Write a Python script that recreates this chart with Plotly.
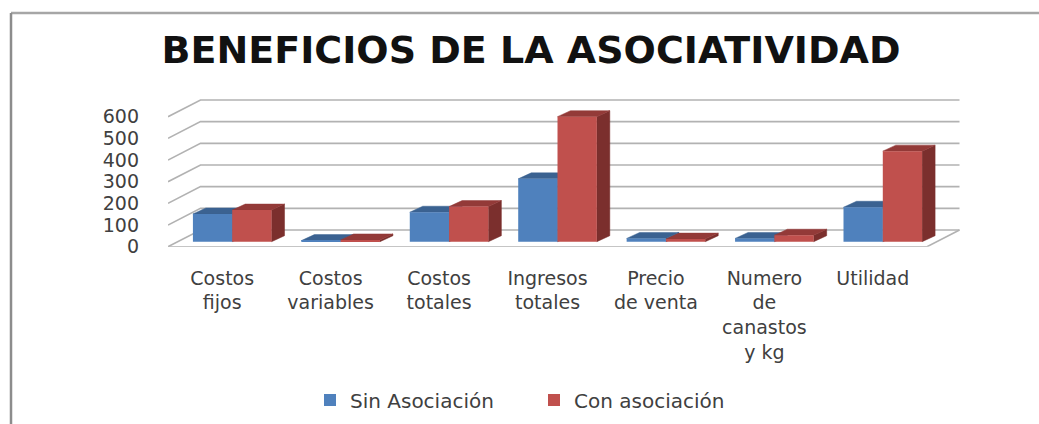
import plotly.graph_objects as go

# values
categorias = ["Costos<br>fijos", "Costos<br>variables", "Costos<br>totales", "Ingresos<br>totales",
              "Precio<br>de venta", "Numero<br>de<br>canastos<br>y kg", "Utilidad"]
sin_asociacion = [128, 5, 136, 290, 15, 15, 159]
con_asociacion = [146, 8, 162, 577, 12, 30, 418]
ticks_y = [0, 100, 200, 300, 400, 500, 600]
titulo = "BENEFICIOS DE LA ASOCIATIVIDAD"

W, H = 1039, 424
FUENTE = "DejaVu Sans"
GRIS = "#b2b2b2"

# falso 3D: pixeles por unidad del plano frontal
PX_CAT = 108.43
PX_VAL = 130 / 600
X0_PX, Y0_PX = 168, 246.7
XMIN, XFRENTE, XMAX = -0.5, 6.5, 6.9
YMAX = 700

PARED_DX, PARED_DY = 32.5 / PX_CAT, 16.7 / PX_VAL   # profundidad del piso
LIFT_DX, LIFT_DY = 10 / PX_CAT, 5 / PX_VAL          # barras respecto al frente
BAR_DX, BAR_DY = 13 / PX_CAT, 6 / PX_VAL            # profundidad de cada barra
ANCHO = 39.3 / PX_CAT


def cara(xs, ys, color):
    return go.Scatter(x=xs, y=ys, mode="lines", fill="toself", fillcolor=color,
                      line=dict(color=color, width=0.5), showlegend=False, hoverinfo="skip")


def caras_barra(pos, valor, izq, tapa, lado):
    # tapa y lado de una barra, calculados desde su valor
    x0 = pos + LIFT_DX + izq
    x1 = x0 + ANCHO
    y0 = LIFT_DY
    y1 = y0 + valor
    return [
        cara([x1, x1 + BAR_DX, x1 + BAR_DX, x1, x1], [y0, y0 + BAR_DY, y1 + BAR_DY, y1, y0], lado),
        cara([x0, x1, x1 + BAR_DX, x0 + BAR_DX, x0], [y1, y1, y1 + BAR_DY, y1 + BAR_DY, y1], tapa),
    ]


fig = go.Figure()

# paredes: rejilla de fondo y diagonales
gx, gy = [], []
for v in ticks_y:
    gx += [XMIN, XMIN + PARED_DX, XFRENTE + PARED_DX, None]
    gy += [v, v + PARED_DY, v + PARED_DY, None]
fig.add_trace(go.Scatter(x=gx, y=gy, mode="lines", line=dict(color=GRIS, width=1.6),
                         showlegend=False, hoverinfo="skip"))

# piso
fig.add_trace(go.Scatter(x=[XMIN, XFRENTE, XFRENTE + PARED_DX], y=[0, 0, PARED_DY], mode="lines",
                         line=dict(color=GRIS, width=1.6), showlegend=False, hoverinfo="skip"))

for i, (a, b) in enumerate(zip(sin_asociacion, con_asociacion)):
    for t in caras_barra(i, a, -ANCHO, "#3b6291", "#385d8a"):
        fig.add_trace(t)
    for t in caras_barra(i, b, 0, "#933a38", "#7b2f2d"):
        fig.add_trace(t)

# frentes de las barras en ejes superpuestos, para quedar sobre las caras
posiciones = list(range(len(categorias)))
fig.add_trace(go.Bar(x=posiciones, y=sin_asociacion, name="Sin Asociación", marker_color="#4f81bd",
                     marker_line_width=0, xaxis="x2", yaxis="y2"))
fig.add_trace(go.Bar(x=posiciones, y=con_asociacion, name="Con asociación", marker_color="#c0504d",
                     marker_line_width=0, xaxis="x2", yaxis="y2"))

fig.update_layout(
    width=W, height=H,
    margin=dict(l=0, r=0, t=0, b=0),
    paper_bgcolor="white", plot_bgcolor="rgba(0,0,0,0)",
    font=dict(family=FUENTE, size=19, color="#404040"),
    title=dict(text=titulo, x=531 / W, y=1 - 50 / H, xref="paper", yref="paper",
               xanchor="center", yanchor="middle",
               font=dict(family=FUENTE, size=38, weight="bold", color="#111111")),
    barmode="group", bargap=1 - 2 * ANCHO, bargroupgap=0,
    xaxis=dict(domain=[X0_PX / W, (X0_PX + (XMAX - XMIN) * PX_CAT) / W], range=[XMIN, XMAX],
               tickmode="array", tickvals=posiciones, ticktext=categorias, showgrid=False,
               zeroline=False, showline=False, ticks="", ticklabelstandoff=18, automargin=False),
    yaxis=dict(domain=[1 - Y0_PX / H, 1 - (Y0_PX - YMAX * PX_VAL) / H], range=[0, YMAX],
               tickmode="array", tickvals=ticks_y, showgrid=False, zeroline=False, showline=False,
               ticks="", ticklabelstandoff=28, tickfont=dict(size=19), automargin=False),
    # un eje superpuesto ignora su domain: el corrimiento va en el range
    xaxis2=dict(range=[XMIN - LIFT_DX, XMAX - LIFT_DX], overlaying="x", anchor="y2",
                visible=False, automargin=False),
    yaxis2=dict(range=[-LIFT_DY, YMAX - LIFT_DY], overlaying="y", anchor="x2",
                visible=False, automargin=False),
    legend=dict(orientation="h", x=310 / W, y=1 - 400 / H, xanchor="left", yanchor="middle",
                font=dict(size=20), entrywidth=179, entrywidthmode="pixels",
                bgcolor="rgba(0,0,0,0)"),
    showlegend=True,
    shapes=[
        dict(type="line", xref="paper", yref="paper", x0=11 / W, x1=1, y0=1 - 13 / H, y1=1 - 13 / H,
             line=dict(color="#a6a6a6", width=2.5)),
        dict(type="line", xref="paper", yref="paper", x0=11 / W, x1=11 / W, y0=1 - 13 / H, y1=0,
             line=dict(color="#8c8c8c", width=2.5)),
    ],
)

# el body trae margen por defecto y correría todo 8 px
fig.write_html("out.html", config=dict(displayModeBar=False),
               post_script="document.body.style.margin='0';")
